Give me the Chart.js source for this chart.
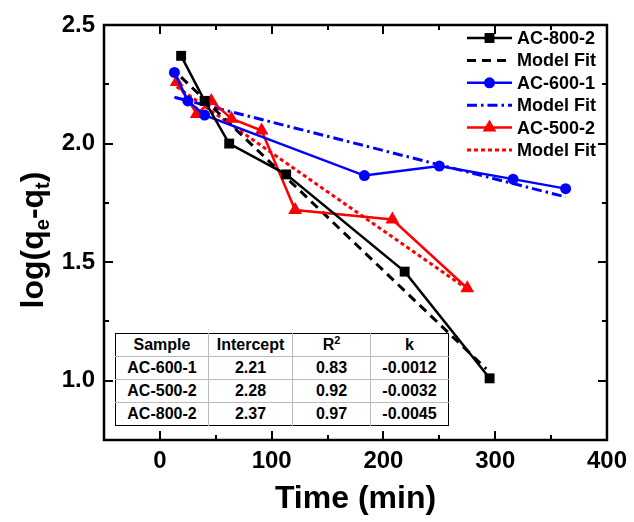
<!DOCTYPE html>
<html>
<head>
<meta charset="utf-8">
<script src="https://cdn.jsdelivr.net/npm/chart.js@4/dist/chart.umd.min.js"></script>
<style>
  body { margin: 0; background: #fff; }
  #wrap { position: relative; width: 634px; height: 522px; }
  #fitTable {
    position: absolute; left: 115px; top: 333px;
    border-collapse: collapse; background: #fff;
    font-family: "Liberation Sans", Arial, sans-serif; font-size: 16px; font-weight: bold; color: #000;
    border: 1.5px solid #000;
  }
  #fitTable td {
    border: 1.5px solid #bbb; height: 22px; padding: 0; text-align: center;
  }
  #fitTable tr:first-child td { border-top: none; }
  #fitTable tr:last-child td { border-bottom: none; }
  #fitTable td:first-child { border-left: none; }
  #fitTable td:last-child { border-right: none; }
  #fitTable sup { font-size: 11px; vertical-align: 6px; line-height: 0; }
</style>
</head>
<body>
<div id="wrap">
  <canvas id="grafica" width="634" height="522"></canvas>
  <table id="fitTable"></table>
</div>
<script>
// datos
const time800 = [19, 40, 62, 113, 219, 295];
const log800 = [2.37, 2.18, 2.00, 1.87, 1.46, 1.01];
const fitTime800 = [19, 292];
const fitLog800 = [2.28, 1.05];

const time600 = [13, 25, 40, 183, 250, 316, 363];
const log600 = [2.30, 2.18, 2.12, 1.865, 1.905, 1.85, 1.81];
const fitTime600 = [13, 363];
const fitLog600 = [2.195, 1.775];

const time500 = [15, 33, 46, 64, 91, 121, 208, 275];
const log500 = [2.26, 2.125, 2.18, 2.105, 2.055, 1.72, 1.68, 1.39];
const fitTime500 = [15, 277];
const fitLog500 = [2.24, 1.38];

const xTicks = [0, 100, 200, 300, 400];
const xMinor = [50, 150, 250, 350];
const yTicks = [1.0, 1.5, 2.0, 2.5];
const yMinor = [1.25, 1.75, 2.25];

// tabla de parametros
const tableHeader = ['Sample', 'Intercept', 'R<sup>2</sup>', 'k'];
const tableSamples = ['AC-600-1', 'AC-500-2', 'AC-800-2'];
const tableIntercept = ['2.21', '2.28', '2.37'];
const tableR2 = ['0.83', '0.92', '0.97'];
const tableK = ['-0.0012', '-0.0032', '-0.0045'];

const fuente = '"Liberation Sans", Arial, sans-serif';

function puntos(xs, ys) {
  return xs.map((x, i) => ({ x: x, y: ys[i] }));
}

// construir la tabla
const colW = [92, 83, 77, 77];
let html = '<tr>' + tableHeader.map((h, i) => `<td style="width:${colW[i]}px">${h}</td>`).join('') + '</tr>';
tableSamples.forEach((s, i) => {
  html += `<tr><td>${s}</td><td>${tableIntercept[i]}</td><td>${tableR2[i]}</td><td>${tableK[i]}</td></tr>`;
});
document.getElementById('fitTable').innerHTML = html;

function drawMarker(ctx, style, x, y, r, color) {
  ctx.save();
  ctx.fillStyle = color;
  ctx.beginPath();
  if (style === 'rect') {
    const s = r * Math.SQRT1_2;
    ctx.rect(x - s, y - s, 2 * s, 2 * s);
  } else if (style === 'circle') {
    ctx.arc(x, y, r, 0, Math.PI * 2);
  } else if (style === 'triangle') {
    ctx.moveTo(x, y - r);
    ctx.lineTo(x + r * 0.866, y + r * 0.5);
    ctx.lineTo(x - r * 0.866, y + r * 0.5);
    ctx.closePath();
  }
  ctx.fill();
  ctx.restore();
}

// marco, marcas interiores, leyenda y titulo del eje y
const decoracion = {
  id: 'decoracion',
  afterDraw(chart) {
    const ctx = chart.ctx;
    const a = chart.chartArea;
    const sx = chart.scales.x, sy = chart.scales.y;
    ctx.save();
    ctx.strokeStyle = '#000';
    ctx.lineWidth = 2.5;
    ctx.strokeRect(a.left, a.top, a.right - a.left, a.bottom - a.top);

    ctx.lineWidth = 2;
    const tickX = (vals, len) => vals.forEach(v => {
      const px = Math.round(sx.getPixelForValue(v));
      ctx.beginPath();
      ctx.moveTo(px, a.bottom); ctx.lineTo(px, a.bottom - len);
      ctx.moveTo(px, a.top); ctx.lineTo(px, a.top + len);
      ctx.stroke();
    });
    const tickY = (vals, len) => vals.forEach(v => {
      const py = Math.round(sy.getPixelForValue(v));
      ctx.beginPath();
      ctx.moveTo(a.left, py); ctx.lineTo(a.left + len, py);
      ctx.moveTo(a.right, py); ctx.lineTo(a.right - len, py);
      ctx.stroke();
    });
    tickX(xTicks, 9); tickX(xMinor, 5);
    tickY(yTicks, 9); tickY(yMinor, 5);

    // leyenda
    const lx0 = 467, lx1 = 512, ly0 = 38, dy = 22.4;
    chart.data.datasets.forEach((ds, i) => {
      const y = ly0 + i * dy;
      ctx.save();
      ctx.strokeStyle = ds.borderColor;
      ctx.lineWidth = ds.borderWidth;
      ctx.setLineDash(ds.borderDash || []);
      ctx.beginPath();
      ctx.moveTo(lx0, y); ctx.lineTo(lx1, y);
      ctx.stroke();
      ctx.restore();
      if (ds.pointRadius > 0) {
        drawMarker(ctx, ds.pointStyle, (lx0 + lx1) / 2, y, ds.pointRadius, ds.borderColor);
      }
      ctx.fillStyle = '#000';
      ctx.font = 'bold 18px ' + fuente;
      ctx.textBaseline = 'middle';
      ctx.textAlign = 'left';
      ctx.fillText(ds.label, 517, y + 1);
    });

    // titulo eje y con subindices
    ctx.translate(32, 240);
    ctx.rotate(-Math.PI / 2);
    const partes = [['log(q', false], ['e', true], ['-q', false], ['t', true], [')', false]];
    const fNorm = 'bold 32px ' + fuente, fSub = 'bold 20px ' + fuente;
    let total = 0;
    partes.forEach(p => { ctx.font = p[1] ? fSub : fNorm; total += ctx.measureText(p[0]).width; });
    let x = -total / 2;
    ctx.textBaseline = 'alphabetic';
    ctx.fillStyle = '#000';
    partes.forEach(p => {
      ctx.font = p[1] ? fSub : fNorm;
      ctx.fillText(p[0], x, p[1] ? 17 : 11);
      x += ctx.measureText(p[0]).width;
    });
    ctx.restore();
  }
};

new Chart(document.getElementById('grafica'), {
  type: 'scatter',
  data: {
    datasets: [
      { label: 'AC-800-2', data: puntos(time800, log800), showLine: true, borderColor: '#000', backgroundColor: '#000',
        borderWidth: 2.5, pointStyle: 'rect', pointRadius: 7, pointBorderWidth: 0, order: 1 },
      { label: 'Model Fit', data: puntos(fitTime800, fitLog800), showLine: true, borderColor: '#000',
        borderWidth: 3, borderDash: [9, 6], pointRadius: 0, order: 2 },
      { label: 'AC-600-1', data: puntos(time600, log600), showLine: true, borderColor: '#0000ff', backgroundColor: '#0000ff',
        borderWidth: 2.5, pointStyle: 'circle', pointRadius: 5.5, pointBorderWidth: 0, order: 1 },
      { label: 'Model Fit', data: puntos(fitTime600, fitLog600), showLine: true, borderColor: '#0000ff',
        borderWidth: 3, borderDash: [10, 4, 2.5, 4], pointRadius: 0, order: 2 },
      { label: 'AC-500-2', data: puntos(time500, log500), showLine: true, borderColor: '#ff0000', backgroundColor: '#ff0000',
        borderWidth: 2.5, pointStyle: 'triangle', pointRadius: 8, pointBorderWidth: 0, order: 1 },
      { label: 'Model Fit', data: puntos(fitTime500, fitLog500), showLine: true, borderColor: '#ff0000',
        borderWidth: 3, borderDash: [4, 3], pointRadius: 0, order: 2 }
    ]
  },
  options: {
    responsive: false,
    animation: false,
    layout: { padding: { top: 25, right: 24, left: 0, bottom: 0 } },
    plugins: { legend: { display: false }, tooltip: { enabled: false } },
    scales: {
      x: {
        type: 'linear', min: -50, max: 400,
        afterBuildTicks: s => { s.ticks = xTicks.map(v => ({ value: v })); },
        afterFit: s => { s.height = 82; },
        grid: { display: false, drawTicks: false },
        border: { display: false },
        ticks: { color: '#000', font: { family: fuente, size: 24, weight: 'bold' }, padding: 7, maxRotation: 0, autoSkip: false },
        title: { display: true, text: 'Time (min)', color: '#000', font: { family: fuente, size: 32, weight: 'bold' }, padding: { top: 0, bottom: 4 } }
      },
      y: {
        type: 'linear', min: 0.75, max: 2.5,
        afterBuildTicks: s => { s.ticks = yTicks.map(v => ({ value: v })); },
        afterFit: s => { s.width = 104; },
        grid: { display: false, drawTicks: false },
        border: { display: false },
        ticks: { color: '#000', font: { family: fuente, size: 24, weight: 'bold' }, padding: 9, autoSkip: false,
          callback: v => v.toFixed(1) }
      }
    }
  },
  plugins: [decoracion]
});
</script>
</body>
</html>
